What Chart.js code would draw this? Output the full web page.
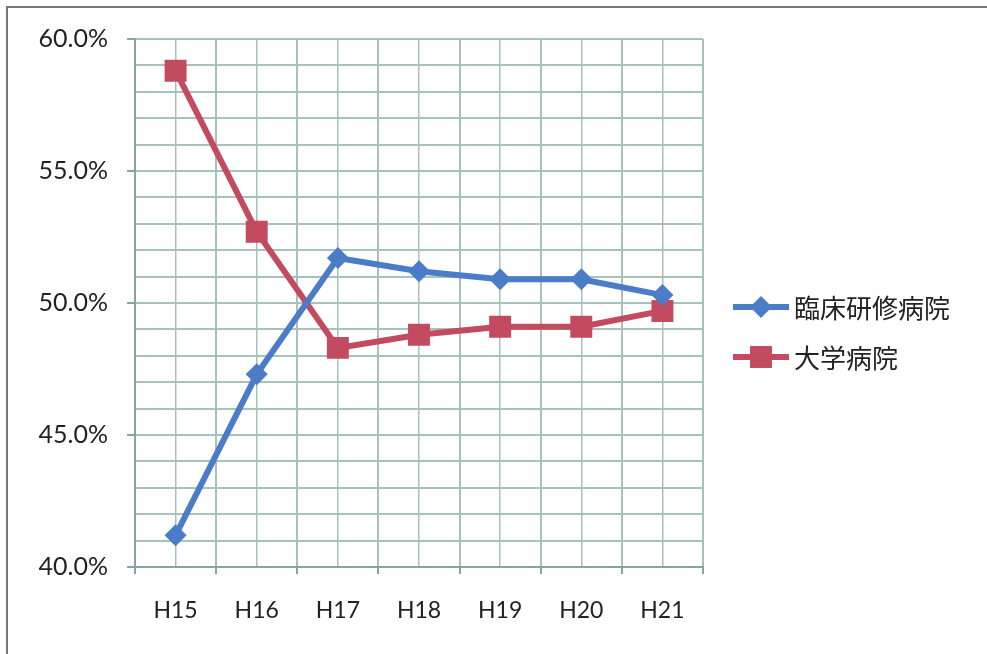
<!DOCTYPE html>
<html lang="ja">
<head>
<meta charset="utf-8">
<title>臨床研修病院・大学病院</title>
<script src="https://cdn.jsdelivr.net/npm/chart.js@4/dist/chart.umd.min.js"></script>
<style>
  html, body { margin: 0; padding: 0; background: #fff; }
  #wrap { position: relative; width: 987px; height: 654px; overflow: hidden; }
  #frame {
    position: absolute; left: 6px; top: 6px; width: 990px; height: 660px;
    border-top: 2px solid #777; border-left: 2px solid #777; pointer-events: none;
  }
</style>
</head>
<body>
<div id="wrap">
  <canvas id="chart" width="987" height="654"></canvas>
  <div id="frame"></div>
</div>
<script>
// Chart data
const categories = ["H15", "H16", "H17", "H18", "H19", "H20", "H21"];
const rinshoValues = [41.2, 47.3, 51.7, 51.2, 50.9, 50.9, 50.3];
const daigakuValues = [58.8, 52.7, 48.3, 48.8, 49.1, 49.1, 49.7];
const seriesNames = ["臨床研修病院", "大学病院"];
const yMin = 40;
const yMax = 60;

const gridColor = "#a7c1bb";
const axisColor = "#8aa3a2";
const textColor = "#222";

// Legend on the right: line with marker, then the name
const sideLegend = {
  id: "sideLegend",
  afterDraw(chart) {
    const ctx = chart.ctx;
    const area = chart.chartArea;
    const rows = [307, 357];
    ctx.save();
    chart.data.datasets.forEach((ds, i) => {
      const y = rows[i];
      const x0 = area.right + 30;
      const x1 = area.right + 86;
      const cx = (x0 + x1) / 2;
      ctx.strokeStyle = ds.borderColor;
      ctx.lineWidth = ds.borderWidth;
      ctx.beginPath();
      ctx.moveTo(x0, y);
      ctx.lineTo(x1, y);
      ctx.stroke();
      ctx.fillStyle = ds.backgroundColor;
      ctx.beginPath();
      if (ds.pointStyle === "rectRot") {
        const r = ds.pointRadius;
        ctx.moveTo(cx - r, y);
        ctx.lineTo(cx, y - r);
        ctx.lineTo(cx + r, y);
        ctx.lineTo(cx, y + r);
        ctx.closePath();
      } else {
        const s = ds.pointRadius * Math.SQRT1_2;
        ctx.rect(cx - s, y - s, s * 2, s * 2);
      }
      ctx.fill();
      ctx.fillStyle = textColor;
      ctx.font = '26px "Noto Sans CJK JP", "Noto Sans", sans-serif';
      ctx.textAlign = "left";
      ctx.textBaseline = "middle";
      ctx.fillText(ds.label, x1 + 5, y + 1);
    });
    ctx.restore();
  },
};

const ctx = document.getElementById("chart").getContext("2d");

new Chart(ctx, {
  type: "line",
  data: {
    labels: categories,
    datasets: [
      {
        label: seriesNames[0],
        data: rinshoValues,
        borderColor: "#4a7cc7",
        backgroundColor: "#4a7cc7",
        borderWidth: 6,
        pointStyle: "rectRot",
        pointRadius: 11,
        pointHoverRadius: 11,
        pointBorderWidth: 0,
        tension: 0,
      },
      {
        label: seriesNames[1],
        data: daigakuValues,
        borderColor: "#c24b60",
        backgroundColor: "#c24b60",
        borderWidth: 6,
        pointStyle: "rect",
        pointRadius: 15.5,
        pointHoverRadius: 15.5,
        pointBorderWidth: 0,
        tension: 0,
      },
    ],
  },
  options: {
    responsive: false,
    animation: false,
    layout: {
      padding: { top: 39, right: 284, bottom: 0, left: 0 },
    },
    plugins: {
      legend: { display: false },
      tooltip: { enabled: false },
    },
    scales: {
      x: {
        type: "category",
        offset: true,
        grid: {
          offset: true,
          color: gridColor,
          lineWidth: 2,
          tickLength: 7,
          tickColor: axisColor,
        },
        border: { color: axisColor, width: 2 },
        ticks: {
          color: textColor,
          font: { family: "Lato, 'Open Sans', sans-serif", size: 23 },
          padding: 23,
          maxRotation: 0,
        },
        afterFit(scale) {
          scale.height = 87;
        },
      },
      xMid: {
        type: "category",
        position: "top",
        offset: true,
        grid: {
          offset: false,
          color: gridColor,
          lineWidth: 1.5,
          drawTicks: false,
        },
        border: { display: false },
        ticks: { display: false },
        afterFit(scale) {
          scale.height = 0;
        },
      },
      y: {
        min: yMin,
        max: yMax,
        grid: {
          color: gridColor,
          lineWidth: 2,
          tickLength: 8,
          tickColor: (c) => (c.tick && c.tick.value % 5 === 0 ? axisColor : "rgba(0,0,0,0)"),
        },
        border: { color: axisColor, width: 2 },
        ticks: {
          stepSize: 1,
          autoSkip: false,
          color: textColor,
          padding: 19,
          font: { family: "Lato, 'Open Sans', sans-serif", size: 25 },
          callback: function (value) {
            return value % 5 === 0 ? value.toFixed(1) + "%" : "";
          },
        },
        afterFit(scale) {
          scale.width = 135;
        },
      },
    },
  },
  plugins: [sideLegend],
});
</script>
</body>
</html>
